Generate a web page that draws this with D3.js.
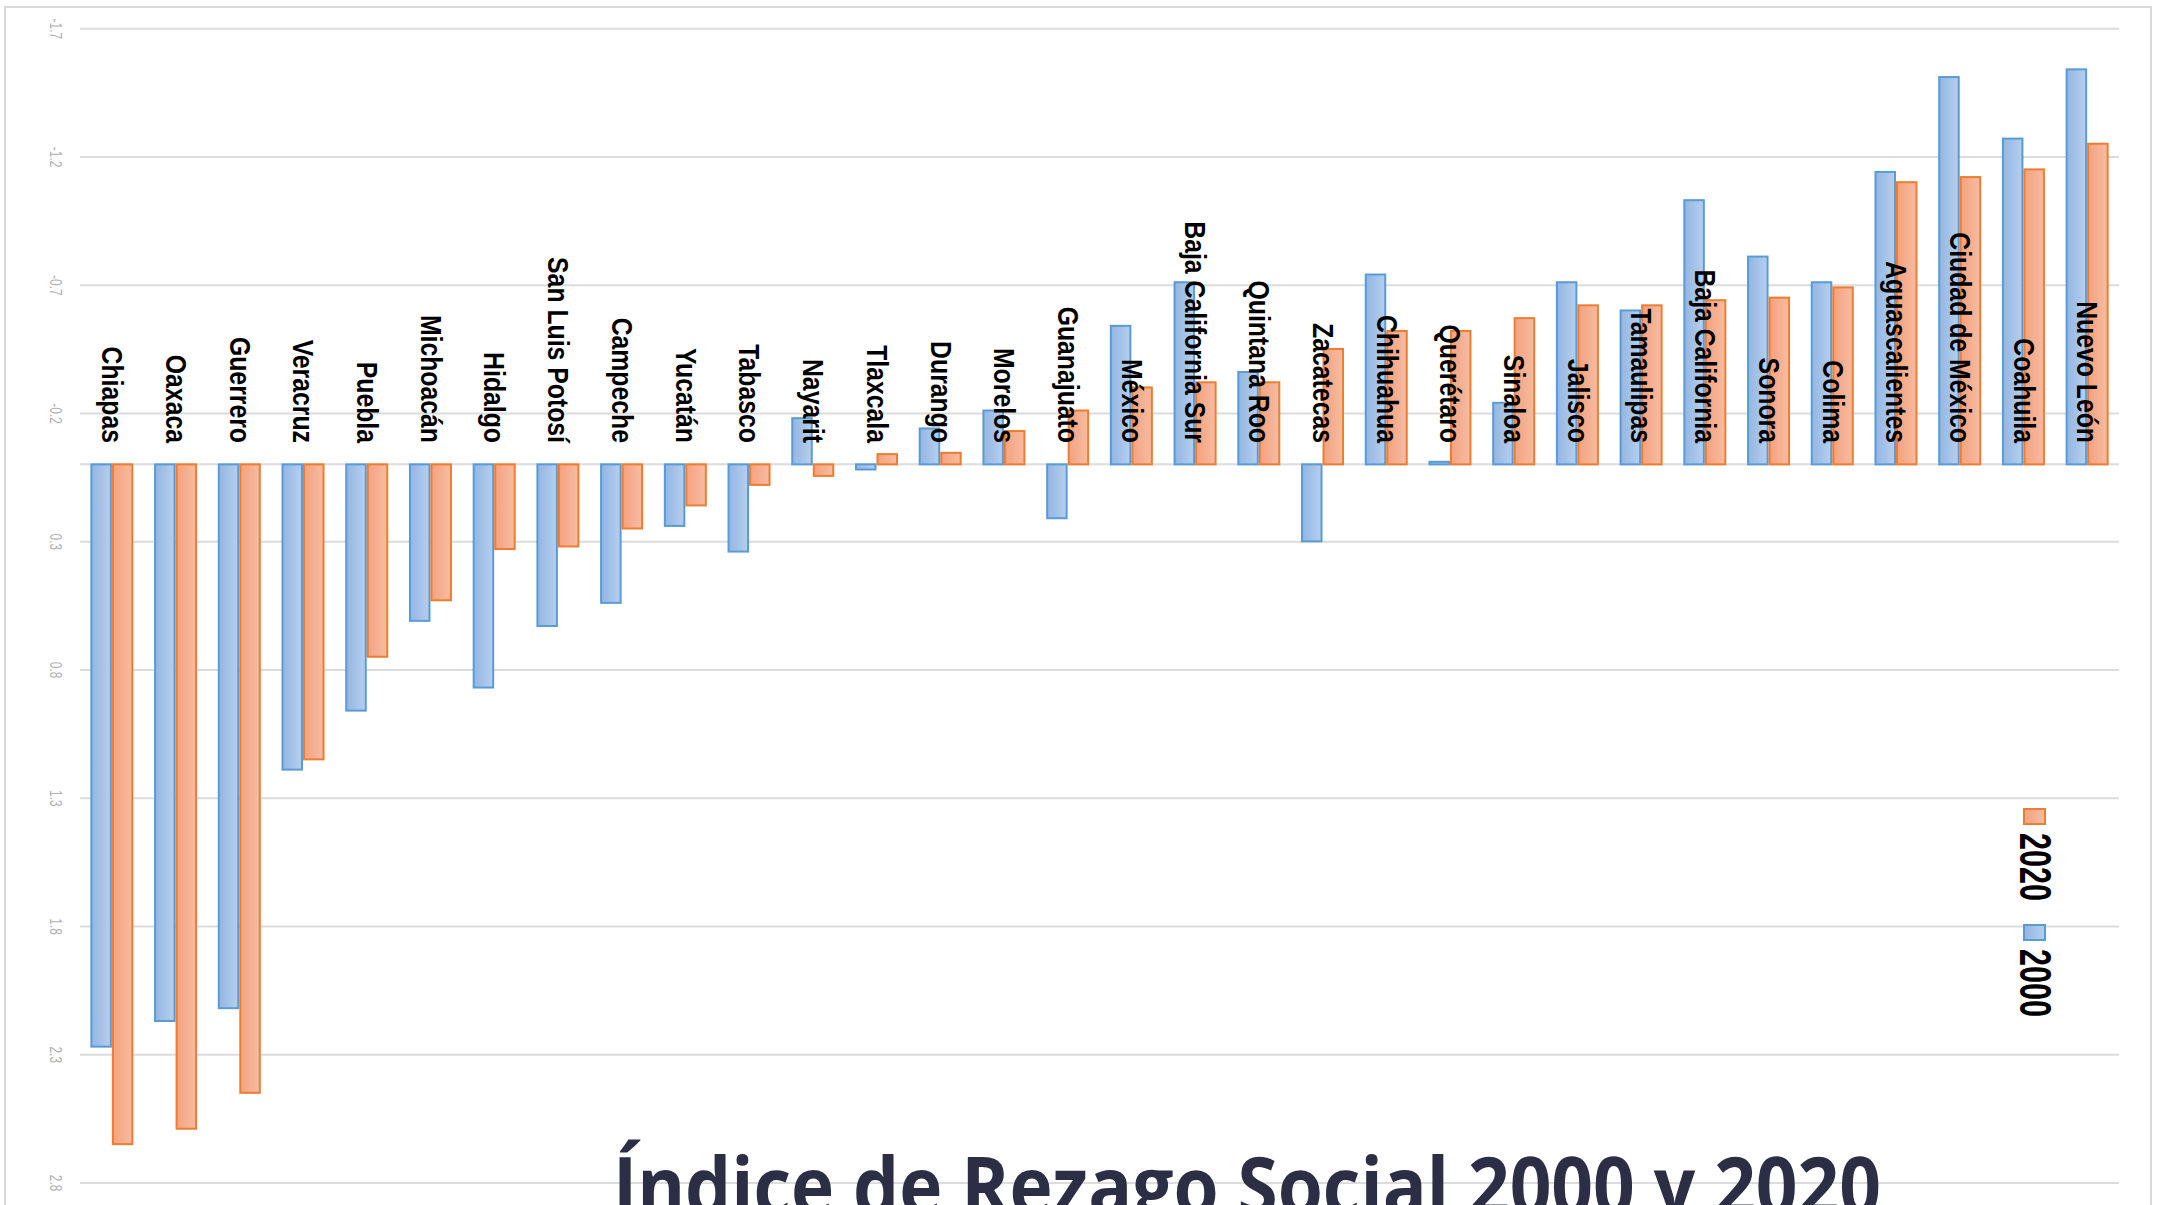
<!DOCTYPE html>
<html><head><meta charset="utf-8">
<script src="https://cdn.jsdelivr.net/npm/d3@7"></script>
<style>body{margin:0;background:#fff;overflow:hidden;} svg{display:block;}</style>
</head><body><svg id="chart" width="2161" height="1205"></svg>
<script>
const states = ["Chiapas","Oaxaca","Guerrero","Veracruz","Puebla","Michoacán","Hidalgo","San Luis Potosí","Campeche","Yucatán","Tabasco","Nayarit","Tlaxcala","Durango","Morelos","Guanajuato","México","Baja California Sur","Quintana Roo","Zacatecas","Chihuahua","Querétaro","Sinaloa","Jalisco","Tamaulipas","Baja California","Sonora","Colima","Aguascalientes","Ciudad de México","Coahuila","Nuevo León"];
const values2000 = [2.27,2.17,2.12,1.19,0.96,0.61,0.87,0.63,0.54,0.24,0.34,-0.18,0.02,-0.14,-0.21,0.21,-0.54,-0.71,-0.36,0.30,-0.74,-0.01,-0.24,-0.71,-0.60,-1.03,-0.81,-0.71,-1.14,-1.51,-1.27,-1.54];
const values2020 = [2.65,2.59,2.45,1.15,0.75,0.53,0.33,0.32,0.25,0.16,0.08,0.045,-0.04,-0.045,-0.13,-0.21,-0.30,-0.32,-0.32,-0.45,-0.52,-0.52,-0.57,-0.62,-0.62,-0.64,-0.65,-0.69,-1.10,-1.12,-1.15,-1.25];
const seriesNames = ["2000","2020"];
const legendOrder = ["2020","2000"];
const yTickValues = [-1.7,-1.2,-0.7,-0.2,0.3,0.8,1.3,1.8,2.3,2.8];
const yTickLabels = ["-1.7","-1.2","-0.7","-0.2","0.3","0.8","1.3","1.8","2.3","2.8"];
const titleText = "Índice de Rezago Social 2000 y 2020";

const svg = d3.select("#chart");
svg.append("rect").attr("width",2161).attr("height",1205).attr("fill","#fff");

const defs = svg.append("defs");
const grads = {
  "2000": {id:"gBlue", c0:"#92b6e3", c1:"#b6cfee", stroke:"#5b9bd5"},
  "2020": {id:"gOrange", c0:"#f4a27f", c1:"#f7bca2", stroke:"#ed7d31"}
};
Object.values(grads).forEach(g=>{
  const lg = defs.append("linearGradient").attr("id",g.id).attr("x1","0").attr("x2","1").attr("y1","0").attr("y2","0");
  lg.append("stop").attr("offset","0%").attr("stop-color",g.c0);
  lg.append("stop").attr("offset","100%").attr("stop-color",g.c1);
});

// frame
svg.append("rect").attr("x",5).attr("y",7).attr("width",2146).attr("height",1300)
  .attr("fill","none").attr("stroke","#d9d9d9").attr("stroke-width",2);

const x = d3.scaleBand().domain(states).range([80,2119]).paddingInner(0.325).paddingOuter(0.1625);
const xs = d3.scaleBand().domain(seriesNames).range([0,x.bandwidth()]);
const y = d3.scaleLinear().domain([-1.7,2.8]).range([28.3,1182.6]);

const ax = svg.append("g").attr("transform","translate(80,0)")
  .call(d3.axisLeft(y).tickValues(yTickValues).tickSize(-2039).tickFormat((d,i)=>yTickLabels[i]));
ax.select(".domain").remove();
ax.selectAll(".tick line").attr("stroke","#dcdcdc").attr("stroke-width",2);
ax.selectAll(".tick text").attr("x",0).attr("dy",null)
  .attr("transform","translate(-24,0) rotate(90) scale(0.7,1)")
  .attr("text-anchor","middle").attr("dominant-baseline","central")
  .attr("fill","#b0b0b0").attr("font-size",17).attr("font-family","Liberation Sans");

// zero line
svg.append("line").attr("x1",80).attr("x2",2119).attr("y1",y(0)).attr("y2",y(0))
  .attr("stroke","#dcdcdc").attr("stroke-width",2);

const barData = states.flatMap((s,i)=>[
  {state:s,key:"2000",value:values2000[i]},
  {state:s,key:"2020",value:values2020[i]}
]);
svg.append("g").selectAll("rect").data(barData).join("rect")
  .attr("x",d=>x(d.state)+xs(d.key)+1)
  .attr("width",xs.bandwidth()-2)
  .attr("y",d=>Math.min(y(0),y(d.value)))
  .attr("height",d=>Math.abs(y(d.value)-y(0)))
  .attr("fill",d=>`url(#${grads[d.key].id})`)
  .attr("stroke",d=>grads[d.key].stroke).attr("stroke-width",2);

// category labels
svg.append("g").selectAll("text").data(states).join("text")
  .attr("transform",d=>`translate(${x(d)+x.bandwidth()/2},443) rotate(90) scale(0.855,1)`)
  .attr("text-anchor","end").attr("dominant-baseline","central")
  .attr("font-family","Liberation Sans").attr("font-weight","bold").attr("font-size",29)
  .attr("fill","#000").text(d=>d);

// legend
const lg = svg.append("g").selectAll("g").data(legendOrder).join("g")
  .attr("transform",(d,i)=>`translate(2023,${808+i*116})`);
lg.append("rect").attr("x",1).attr("y",1).attr("width",21).attr("height",15)
  .attr("fill",d=>`url(#${grads[d].id})`).attr("stroke",d=>grads[d].stroke).attr("stroke-width",2);
lg.append("text").attr("transform","translate(13,25) rotate(90) scale(0.68,1)")
  .attr("text-anchor","start").attr("dominant-baseline","central")
  .attr("font-family","Liberation Sans").attr("font-weight","bold").attr("font-size",45)
  .attr("fill","#000").text(d=>d);

// title (cut by the bottom edge as in the reference)
svg.append("text").attr("x",613).attr("y",1215)
  .attr("font-family","Open Sans").attr("font-weight",700).attr("font-size",80)
  .attr("fill","#2b2e45").attr("textLength",1268).attr("lengthAdjust","spacingAndGlyphs")
  .text(titleText);
</script></body></html>
